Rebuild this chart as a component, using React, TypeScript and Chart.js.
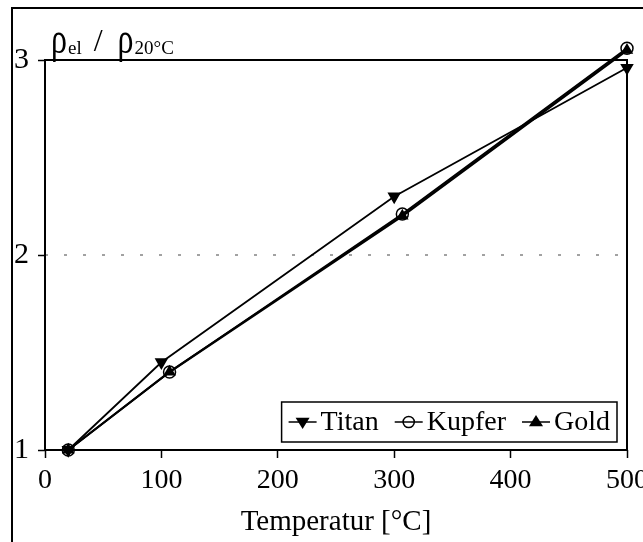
import React, { useEffect, useRef } from "react";
import { Chart, registerables } from "chart.js";

Chart.register(...registerables);

const xTicks = [0, 100, 200, 300, 400, 500];
const yTicks = [1, 2, 3];

const titanX = [20, 100, 300, 500];
const titanY = [1, 1.45, 2.3, 2.96];
const kupferX = [20, 107, 307, 500];
const kupferY = [1, 1.4, 2.21, 3.06];
const goldX = [20, 107, 307, 500];
const goldY = [1, 1.4, 2.2, 3.05];

const seriesNames = ["Titan", "Kupfer", "Gold"];
const xTitle = "Temperatur [°C]";

const FONT = '"Liberation Serif", "Times New Roman", serif';
const Y_FRAME_MAX = 3;

function drawMarker(ctx: CanvasRenderingContext2D, kind: string, x: number, y: number, r: number) {
  ctx.save();
  ctx.fillStyle = "#000";
  ctx.strokeStyle = "#000";
  ctx.lineWidth = 1.5;
  ctx.beginPath();
  if (kind === "down") {
    ctx.moveTo(x - r, y - r * 0.6);
    ctx.lineTo(x + r, y - r * 0.6);
    ctx.lineTo(x, y + r);
    ctx.closePath();
    ctx.fill();
  } else if (kind === "up") {
    ctx.moveTo(x - r, y + r * 0.6);
    ctx.lineTo(x + r, y + r * 0.6);
    ctx.lineTo(x, y - r);
    ctx.closePath();
    ctx.fill();
  } else {
    ctx.arc(x, y, r * 0.8, 0, Math.PI * 2);
    ctx.stroke();
  }
  ctx.restore();
}

const decorPlugin = {
  id: "decor",
  beforeDatasetsDraw(chart: any) {
    const { ctx, chartArea, scales } = chart;
    ctx.save();
    const y2 = scales.y.getPixelForValue(2);
    ctx.strokeStyle = "#444";
    ctx.lineWidth = 1;
    ctx.setLineDash([3, 16]);
    ctx.beginPath();
    ctx.moveTo(chartArea.left, y2);
    ctx.lineTo(chartArea.right, y2);
    ctx.stroke();
    ctx.setLineDash([]);
    // plot border
    const top = scales.y.getPixelForValue(Y_FRAME_MAX);
    ctx.strokeStyle = "#000";
    ctx.lineWidth = 2;
    ctx.strokeRect(chartArea.left, top, chartArea.right - chartArea.left, chartArea.bottom - top);
    ctx.restore();
  },
  afterDraw(chart: any) {
    const { ctx, chartArea, scales } = chart;
    const top = scales.y.getPixelForValue(Y_FRAME_MAX);
    ctx.save();
    // outer frame (left & top)
    ctx.strokeStyle = "#000";
    ctx.lineWidth = 2;
    ctx.beginPath();
    ctx.moveTo(12, chart.height);
    ctx.lineTo(12, 8);
    ctx.lineTo(chart.width, 8);
    ctx.stroke();

    // y title: ρel / ρ20°C
    ctx.fillStyle = "#000";
    ctx.textBaseline = "alphabetic";
    ctx.textAlign = "left";
    let x = chartArea.left + 6;
    const base = top - 7;
    const drawBig = (t: string) => {
      ctx.save();
      ctx.font = `32px ${FONT}`;
      ctx.translate(x, base);
      ctx.scale(1, 1.4);
      ctx.fillText(t, 0, 0);
      ctx.restore();
      ctx.font = `32px ${FONT}`;
      x += ctx.measureText(t).width;
    };
    const drawSmall = (t: string) => {
      ctx.font = `19px ${FONT}`;
      ctx.fillText(t, x, base + 1);
      x += ctx.measureText(t).width;
    };
    drawBig("ρ");
    x += 1;
    drawSmall("el");
    x += 12;
    ctx.font = `32px ${FONT}`;
    ctx.fillText("/", x, base - 2);
    x += ctx.measureText("/").width + 15;
    drawBig("ρ");
    x += 1;
    drawSmall("20°C");

    // legend
    ctx.font = `28px ${FONT}`;
    const kinds = ["down", "circle", "up"];
    const symW = 28;
    const gapST = 4;
    const gapE = 16;
    const pad = 7;
    let total = pad * 2;
    const widths = seriesNames.map((n) => ctx.measureText(n).width);
    widths.forEach((w, i) => {
      total += symW + gapST + w + (i < widths.length - 1 ? gapE : 0);
    });
    const boxH = 40;
    const bx = chartArea.right - 10 - total;
    const by = chartArea.bottom - 8 - boxH;
    ctx.fillStyle = "#fff";
    ctx.fillRect(bx, by, total, boxH);
    ctx.strokeStyle = "#000";
    ctx.lineWidth = 1.5;
    ctx.strokeRect(bx, by, total, boxH);
    let lx = bx + pad;
    const cy = by + boxH / 2;
    seriesNames.forEach((n, i) => {
      ctx.strokeStyle = "#000";
      ctx.lineWidth = 1.5;
      ctx.beginPath();
      ctx.moveTo(lx, cy);
      ctx.lineTo(lx + symW, cy);
      ctx.stroke();
      drawMarker(ctx, kinds[i], lx + symW / 2, cy, 7);
      lx += symW + gapST;
      ctx.fillStyle = "#000";
      ctx.textBaseline = "middle";
      ctx.textAlign = "left";
      ctx.font = `28px ${FONT}`;
      ctx.fillText(n, lx, cy + 1);
      lx += widths[i] + gapE;
    });
    ctx.restore();
  },
};

function toPts(xs: number[], ys: number[]) {
  return xs.map((x, i) => ({ x, y: ys[i] }));
}

export default function App() {
  const ref = useRef<HTMLCanvasElement | null>(null);
  useEffect(() => {
    if (!ref.current) return;
    const chart = new Chart(ref.current, {
      type: "line",
      data: {
        datasets: [
          {
            label: seriesNames[0],
            data: toPts(titanX, titanY),
            borderColor: "#000",
            borderWidth: 1.8,
            pointStyle: "triangle",
            pointRotation: 180,
            pointRadius: 6,
            pointBackgroundColor: "#000",
            pointBorderColor: "#000",
            tension: 0,
            clip: false,
          },
          {
            label: seriesNames[1],
            data: toPts(kupferX, kupferY),
            borderColor: "#000",
            borderWidth: 2,
            pointStyle: "circle",
            pointRadius: 6,
            pointBackgroundColor: "rgba(0,0,0,0)",
            pointBorderColor: "#000",
            pointBorderWidth: 1.5,
            tension: 0,
            clip: false,
          },
          {
            label: seriesNames[2],
            data: toPts(goldX, goldY),
            borderColor: "#000",
            borderWidth: 2.2,
            pointStyle: "triangle",
            pointRadius: 5,
            pointBackgroundColor: "#000",
            pointBorderColor: "#000",
            tension: 0,
            clip: false,
          },
        ],
      },
      options: {
        responsive: false,
        animation: false,
        layout: { padding: { top: 40.5, right: 16, left: 0, bottom: 0 } },
        plugins: { legend: { display: false }, tooltip: { enabled: false } },
        scales: {
          x: {
            type: "linear",
            min: 0,
            max: 500,
            afterBuildTicks: (s: any) => {
              s.ticks = xTicks.map((v) => ({ value: v }));
            },
            afterFit: (s: any) => {
              s.height = 92;
              s.paddingLeft = 0;
              s.paddingRight = 0;
            },
            ticks: {
              color: "#000",
              font: { family: FONT, size: 28 },
              padding: 6,
              maxRotation: 0,
              autoSkip: false,
            },
            grid: { display: true, drawOnChartArea: false, drawTicks: true, tickLength: 8, tickColor: "#000", tickWidth: 1.5 },
            border: { display: false },
            title: {
              display: true,
              text: xTitle,
              color: "#000",
              font: { family: FONT, size: 29 },
              padding: { top: 0, bottom: 2 },
            },
          },
          y: {
            type: "linear",
            min: 1,
            max: 3.1,
            afterBuildTicks: (s: any) => {
              s.ticks = yTicks.map((v) => ({ value: v }));
            },
            afterFit: (s: any) => {
              s.width = 45;
              s.paddingTop = 0;
              s.paddingBottom = 0;
            },
            ticks: {
              color: "#000",
              font: { family: FONT, size: 30 },
              padding: 9,
            },
            grid: { display: true, drawOnChartArea: false, drawTicks: true, tickLength: 7, tickColor: "#000", tickWidth: 1.5 },
            border: { display: false },
          },
        },
      },
      plugins: [decorPlugin],
    });
    return () => chart.destroy();
  }, []);
  return (
    <div style={{ position: "fixed", left: 0, top: 0, width: 643, height: 542, background: "#fff" }}>
      <canvas ref={ref} width={643} height={542} style={{ width: 643, height: 542, display: "block" }} />
    </div>
  );
}
